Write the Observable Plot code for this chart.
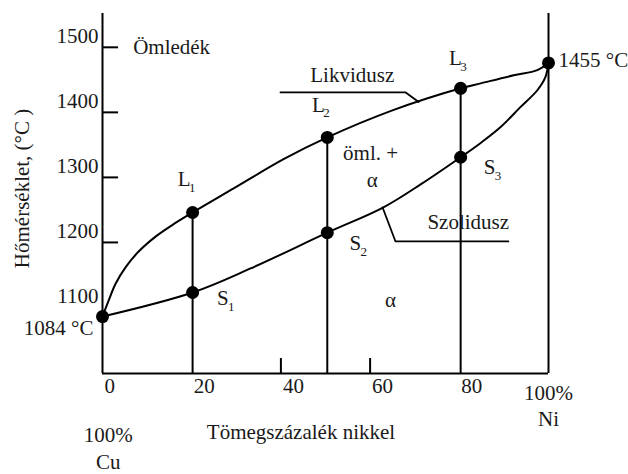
<!DOCTYPE html>
<html>
<head>
<meta charset="utf-8">
<script src="https://cdn.jsdelivr.net/npm/d3@7"></script>
<script src="https://cdn.jsdelivr.net/npm/@observablehq/plot@0.6"></script>
<style>
  html, body { margin: 0; padding: 0; background: #fff; }
  #chart svg { display: block; }
  #chart svg text { font-family: "Liberation Serif", "Times New Roman", serif; }
</style>
</head>
<body>
<div id="chart"></div>
<script>
// Axis domain
const xDomain = [0, 100];
const yDomain = [998.5, 1552];

// Tick values and labels
const xTickLabels = ["0", "20", "40", "60", "80"];
const xTickValues = [0, 20, 40, 60, 80];
const xTickMarks = [40, 60];
const yTickLabels = [1100, 1200, 1300, 1400, 1500];
const yTickMarks = [1200, 1300, 1400, 1500];

// Liquidus curve (wt% Ni, °C)
const liquidusX = [0, 1.35, 2.9, 5.2, 8.1, 11.9, 15.7, 20.2, 29.4, 40.6, 50.4, 65, 80.3, 84.8, 92.2, 97.5, 100];
const liquidusT = [1086, 1110, 1136, 1162, 1186, 1209, 1227, 1246, 1283, 1328, 1361.5, 1403, 1437, 1444.6, 1457, 1465, 1476];

// Solidus curve
const solidusX = [0, 20.2, 33.2, 50.4, 63, 71.5, 80.3, 84.8, 89.2, 93.7, 97.5, 99.3, 100];
const solidusT = [1086, 1123, 1160, 1215, 1254, 1290, 1331, 1353, 1377, 1408, 1434, 1454, 1476];

// Tie lines (composition, liquidus point, solidus point)
const tieX = [20.2, 50.4, 80.3];
const tieL = [1246, 1361.5, 1437];
const tieS = [1123, 1215, 1331];

// Melting points of the pure metals
const pureX = [0, 100];
const pureT = [1086, 1476];
const pureLabels = ["1084 °C", "1455 °C"];

// Point labels with subscripts
const ptLetter = ["L", "L", "L", "S", "S", "S"];
const ptSub = ["1", "2", "3", "1", "2", "3"];
const ptX = [18.3, 48.4, 79.1, 27.0, 56.7, 86.8];
const ptT = [1297, 1411, 1483, 1114, 1198.5, 1315];

// Region labels
const regionText = ["Ömledék", "öml. +", "α", "α"];
const regionX = [15.5, 60.1, 60.5, 64.6];
const regionT = [1500, 1337, 1295, 1111];

// Leader lines for the curve names
const likvLeaderX = [39.9, 67.9, 70.9];
const likvLeaderT = [1430.8, 1430.8, 1416];
const szolLeaderX = [62.8, 65.7, 91.0];
const szolLeaderT = [1253.8, 1201.5, 1201.5];
const curveNames = ["Likvidusz", "Szolidusz"];
const curveNameX = [56, 82];
const curveNameT = [1457, 1231];

const FONT = '"Liberation Serif", "Times New Roman", serif';
const INK = "#1a1a1a";
const T = {fill: INK, fontSize: 21, fontFamily: FONT};

const zip = (xs, ys) => xs.map((x, i) => ({x, y: ys[i]}));
const yMin = yDomain[0];

const chart = Plot.plot({
  width: 628,
  height: 474,
  marginLeft: 102,
  marginRight: 80,
  marginTop: 13,
  marginBottom: 101,
  x: {domain: xDomain, axis: null},
  y: {domain: yDomain, axis: null},
  style: {fontFamily: FONT, fontSize: "21px", color: INK, background: "#fff"},
  marks: [
    // frame: left axis, right edge (100% Ni), bottom axis
    Plot.ruleX(pureX, {stroke: "#000", strokeWidth: 2}),
    Plot.ruleY([yMin], {x1: 0, x2: 100, stroke: "#000", strokeWidth: 2}),
    // inward tick marks
    Plot.ruleY(yTickMarks, {x1: 0, x2: 3.6, stroke: "#000", strokeWidth: 2}),
    Plot.ruleX(xTickMarks, {y1: yMin, y2: yMin + 23, stroke: "#000", strokeWidth: 2}),
    // tick labels
    Plot.text(yTickLabels, {...T, x: 0, y: d => d, text: d => String(d), textAnchor: "end", dx: -4, dy: -11}),
    Plot.text(xTickValues, {...T, x: d => d, y: yMin, text: (d, i) => xTickLabels[i], textAnchor: "start", dx: 2, dy: 13}),
    // tie lines
    Plot.ruleX(tieX.map((x, i) => ({x, top: tieL[i]})), {x: "x", y1: yMin, y2: "top", stroke: "#000", strokeWidth: 2}),
    // liquidus and solidus
    Plot.line(zip(liquidusX, liquidusT), {x: "x", y: "y", curve: "catmull-rom", stroke: "#000", strokeWidth: 2}),
    Plot.line(zip(solidusX, solidusT), {x: "x", y: "y", curve: "catmull-rom", stroke: "#000", strokeWidth: 2}),
    // leader lines
    Plot.line(zip(likvLeaderX, likvLeaderT), {x: "x", y: "y", stroke: "#000", strokeWidth: 1.8}),
    Plot.line(zip(szolLeaderX, szolLeaderT), {x: "x", y: "y", stroke: "#000", strokeWidth: 1.8}),
    // points
    Plot.dot(zip(tieX, tieL).concat(zip(tieX, tieS), zip(pureX, pureT)), {x: "x", y: "y", r: 6.5, fill: "#000"}),
    // point labels
    Plot.text(ptX.map((x, i) => ({x, y: ptT[i], t: ptLetter[i]})), {...T, x: "x", y: "y", text: "t"}),
    Plot.text(ptX.map((x, i) => ({x, y: ptT[i], t: ptSub[i]})), {...T, x: "x", y: "y", text: "t", fontSize: 13, textAnchor: "start", dx: 5, dy: 8}),
    // melting point labels
    Plot.text([0], {...T, x: pureX[0], y: pureT[0], text: [pureLabels[0]], textAnchor: "end", dx: -9, dy: 12}),
    Plot.text([1], {...T, x: pureX[1], y: pureT[1], text: [pureLabels[1]], textAnchor: "start", dx: 10, dy: -3}),
    // region labels
    Plot.text(regionText.map((t, i) => ({t, x: regionX[i], y: regionT[i]})), {...T, x: "x", y: "y", text: "t"}),
    // curve names
    Plot.text(curveNames.map((t, i) => ({t, x: curveNameX[i], y: curveNameT[i]})), {...T, x: "x", y: "y", text: "t"}),
    // composition end labels
    Plot.text(["100%\nNi"], {...T, x: 100, y: yMin, dy: 31, lineHeight: 1.25}),
    Plot.text(["100%\nCu"], {...T, x: 1.3, y: yMin, dy: 73, lineHeight: 1.3}),
    // axis titles
    Plot.text(["Tömegszázalék nikkel"], {...T, x: 44.5, y: yMin, dy: 59}),
    Plot.text(["Hőmérséklet, (°C )"], {...T, frameAnchor: "left", textAnchor: "middle", dx: -80, y: 1283, rotate: -90})
  ]
});

document.getElementById("chart").appendChild(chart);
</script>
</body>
</html>
